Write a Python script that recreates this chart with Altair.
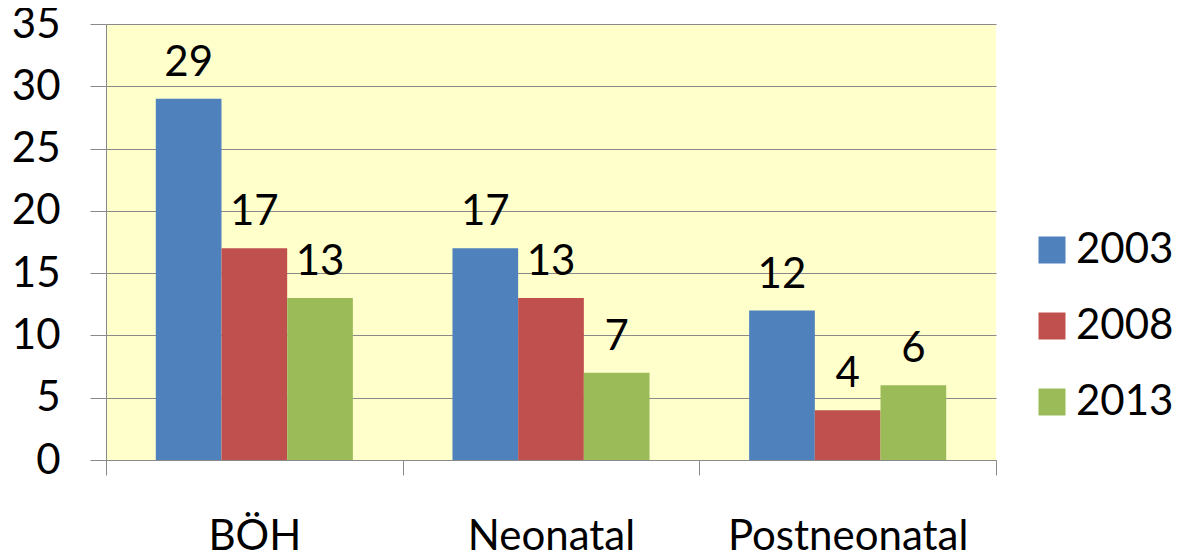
import altair as alt
import pandas as pd

categories = ["BÖH", "Neonatal", "Postneonatal"]
years = ["2003", "2008", "2013"]
values_2003 = [29, 17, 12]
values_2008 = [17, 13, 4]
values_2013 = [13, 7, 6]
colors = ["#4F81BD", "#C0504D", "#9BBB59"]

rows = []
for yr, vals in zip(years, [values_2003, values_2008, values_2013]):
    for c, v in zip(categories, vals):
        rows.append({"cat": c, "year": yr, "value": v})
df = pd.DataFrame(rows)

FONT = "Lato"
FS = 42
GRAY = "#8a8a8a"

x = alt.X(
    "cat:N",
    sort=categories,
    scale=alt.Scale(paddingInner=0, paddingOuter=0),
    axis=alt.Axis(
        title=None, labelAngle=0, tickBand="extent", tickSize=15,
        tickColor=GRAY, domainColor=GRAY, labelFont=FONT, labelFontSize=FS,
        labelColor="black", labelPadding=74, labelBaseline="alphabetic",
        labelLimit=0,
    ),
)
xo = alt.XOffset("year:N", sort=years,
                 scale=alt.Scale(paddingInner=0, paddingOuter=0.758))
y = alt.Y(
    "value:Q",
    scale=alt.Scale(domain=[0, 35], nice=False),
    axis=alt.Axis(
        title=None, values=list(range(0, 36, 5)), tickSize=16, tickColor=GRAY,
        gridColor=GRAY, domainColor=GRAY, labelFont=FONT, labelFontSize=FS,
        labelColor="black", labelPadding=30,
    ),
)
color = alt.Color(
    "year:N", sort=years,
    scale=alt.Scale(domain=years, range=colors),
    legend=alt.Legend(
        title=None, orient="none", legendX=925, legendY=205,
        symbolType="square", symbolSize=729, symbolStrokeWidth=0,
        labelFont=FONT, labelFontSize=FS, labelColor="black",
        labelOffset=3, rowPadding=34, labelLimit=0,
    ),
)

bars = alt.Chart(df).mark_bar().encode(x=x, xOffset=xo, y=y, color=color)
text = alt.Chart(df).mark_text(
    dy=-23, baseline="alphabetic", font=FONT, fontSize=FS, color="black"
).encode(x=x, xOffset=xo, y=y, text="value:Q")

chart = (
    alt.layer(bars, text)
    .properties(
        width=890, height=436,
        autosize=alt.AutoSizeParams(type="none"),
        padding={"left": 98, "top": 16, "right": 177, "bottom": 92},
        background="white",
    )
    .configure_view(fill="#FFFFCC", stroke=None)
)

chart.save("out.html", embed_options={"renderer": "svg", "actions": False})
